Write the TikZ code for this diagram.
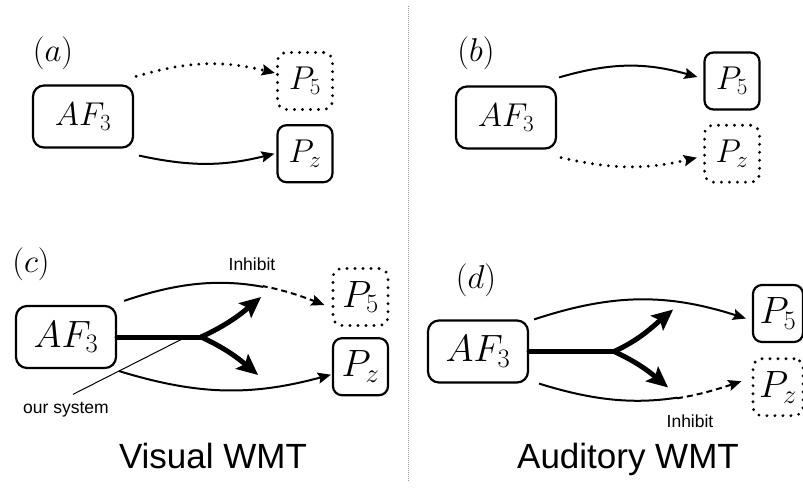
\RequirePackage{fix-cm}
\documentclass[tikz,border=0pt]{standalone}
\usepackage{amsmath}
\usepackage{fontspec}
\newfontfamily\wmtfont{Liberation Sans}
\usetikzlibrary{arrows.meta,positioning}
\tikzset{>={Stealth[length=13pt,width=11pt,inset=2pt]},
	sink box/.style={draw, rounded corners=9pt, line width=2.2pt, inner sep=0pt,
		minimum width=55pt, minimum height=57pt, font=\fontsize{33}{40}\selectfont},
	src box/.style={sink box, rounded corners=11pt, minimum width=100pt, minimum height=62pt},
	off box/.style={sink box, line width=3.2pt, line cap=round, dash pattern=on 0pt off 8pt},
	wide math/.style={font=\fontsize{38}{45}\selectfont},
	tag/.style={inner sep=0pt, font=\fontsize{33}{40}\selectfont},
	link/.style={line width=2pt, ->},
	offlink/.style={line width=3.2pt, line cap=round, dash pattern=on 0pt off 8pt, ->},
	halflink/.style={line width=2pt, dash pattern=on 6pt off 4pt, ->},
	fork/.style={line width=5pt, line cap=round},
	fork tip/.style={-{Stealth[length=21pt,width=19pt,inset=4pt]}},
	divider/.style={gray!80, line width=0.9pt, dash pattern=on 1pt off 1pt}}
\tikzstyle{smallsans}=[inner sep=2pt, font=\wmtfont\fontsize{17.5}{20}\selectfont]
\tikzstyle{title}=[inner sep=0pt, font=\wmtfont\fontsize{35}{40}\selectfont]

\begin{document}
\begin{tikzpicture}[x=1pt,y=1pt]
	\useasboundingbox (0,0) rectangle (803,-488);
	\draw[divider] (408,-6) -- (408,-482);
	% (a)
	\node[tag] (a-tag) at (53,-53.5) {$(a)$};
	\node[src box] (a-af) at (83,-116.5) {$AF_3$};
	\node[off box] (a-p5) at (305,-81) {$P_5$};
	\node[sink box, below=13pt of a-p5] (a-pz) {$P_z$};
	\draw[offlink] ([shift={(2,8)}]a-af.north east) to[bend left=15] ([shift={(-1,8)}]a-p5.west);
	\draw[link] ([shift={(5,-7)}]a-af.south east) to[bend right=13] ([shift={(-2,0)}]a-pz.west);
	% (b)
	\node[tag] (b-tag) at (476,-53.5) {$(b)$};
	\node[src box] (b-af) at (506,-117.5) {$AF_3$};
	\node[sink box] (b-p5) at (732,-81) {$P_5$};
	\node[off box, below=13pt of b-p5] (b-pz) {$P_z$};
	\draw[link] ([shift={(2,8)}]b-af.north east) to[bend left=16] ([shift={(-6,4)}]b-p5.west);
	\draw[offlink] ([shift={(4,-8)}]b-af.south east) to[bend right=13] ([shift={(-6,-4)}]b-pz.west);
	% (c)
	\node[tag] (c-tag) at (31,-264) {$(c)$};
	\node[src box, wide math] (c-af) at (66,-337) {$AF_3$};
	\node[off box, wide math] (c-p5) at (360.5,-297) {$P_5$};
	\node[sink box, wide math, below=10pt of c-p5] (c-pz) {$P_z$};
	\coordinate[right=84pt of c-af.east] (c-fork);
	\coordinate[above right=40pt and 60pt of c-fork] (c-up);
	\coordinate[below right=38pt and 57pt of c-fork] (c-dn);
	\coordinate[left=15pt of c-fork] (c-sys);
	\begin{scope}
		\clip (0,0) rectangle (263,-488);
		\draw[line width=2pt] ([shift={(7,4)}]c-af.north east) to[bend left=20] ([shift={(-7,-8)}]c-p5.west);
	\end{scope}
	\begin{scope}
		\clip (263,0) rectangle (408,-488);
		\draw[halflink] ([shift={(7,4)}]c-af.north east) to[bend left=20] ([shift={(-7,-8)}]c-p5.west);
	\end{scope}
	\draw[link] ([shift={(2,-2)}]c-af.south east) to[bend right=16] ([shift={(-1,-8)}]c-pz.west);
	\draw[fork] (c-af.east) -- (c-fork);
	\draw[fork, fork tip] (c-fork) to[out=25,in=220] (c-up);
	\draw[fork, fork tip] (c-fork) to[out=-25,in=140] (c-dn);
	\node[smallsans] (c-inhibit) at (252,-264) {Inhibit};
	\node[smallsans] (c-note) at (66,-410) {our system};
	\draw[line width=1pt] (c-sys) -- ([shift={(7,6)}]c-note.north);
	\node[title, anchor=base] (c-title) at (213,-468) {Visual WMT};
	% (d)
	\node[tag] (d-tag) at (476,-280) {$(d)$};
	\node[src box, wide math] (d-af) at (478,-351.5) {$AF_3$};
	\node[sink box, wide math, minimum width=50pt] (d-p5) at (778,-313.5) {$P_5$};
	\node[off box, wide math, minimum width=50pt, below=14pt of d-p5] (d-pz) {$P_z$};
	\coordinate[right=85pt of d-af.east] (d-fork);
	\coordinate[above right=42pt and 59pt of d-fork] (d-up);
	\coordinate[below right=36pt and 54pt of d-fork] (d-dn);
	\draw[link] ([shift={(5,0)}]d-af.north east) to[bend left=18] ([shift={(-6,-5)}]d-p5.west);
	\begin{scope}
		\clip (408,0) rectangle (677,-488);
		\draw[line width=2pt] ([shift={(10,0)}]d-af.south east) to[bend right=18] ([shift={(-10,6)}]d-pz.west);
	\end{scope}
	\begin{scope}
		\clip (677,0) rectangle (803,-488);
		\draw[halflink] ([shift={(10,0)}]d-af.south east) to[bend right=18] ([shift={(-10,6)}]d-pz.west);
	\end{scope}
	\draw[fork] (d-af.east) -- (d-fork);
	\draw[fork, fork tip] (d-fork) to[out=25,in=220] (d-up);
	\draw[fork, fork tip] (d-fork) to[out=-25,in=140] (d-dn);
	\node[smallsans] (d-inhibit) at (690,-421) {Inhibit};
	\node[title, anchor=base] (d-title) at (628,-468) {Auditory WMT};
\end{tikzpicture}
\end{document}
